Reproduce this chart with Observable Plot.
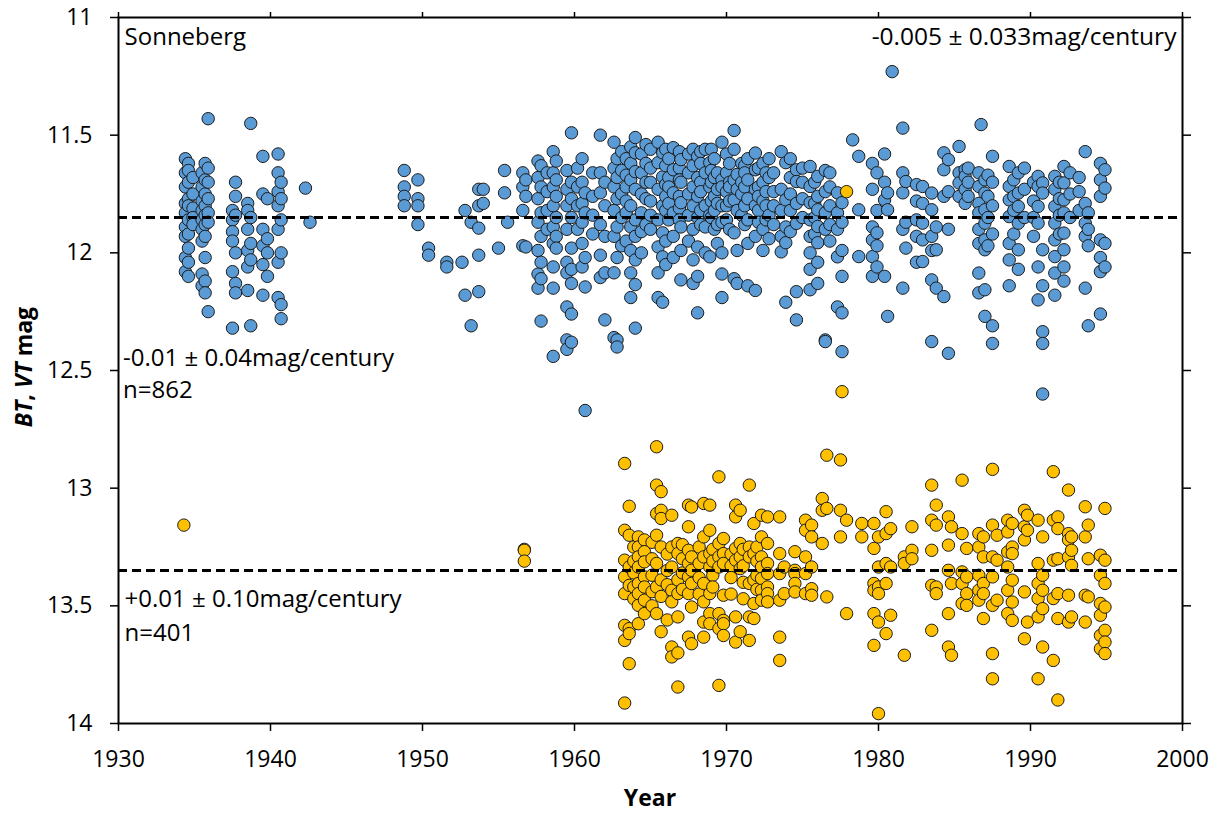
<!DOCTYPE html>
<html>
<head>
<meta charset="utf-8">
<script src="https://cdn.jsdelivr.net/npm/d3@7"></script>
<script src="https://cdn.jsdelivr.net/npm/@observablehq/plot@0.6"></script>
<style>
  html, body { margin: 0; padding: 0; background: #fff; }
  #chart svg { display: block; }
</style>
</head>
<body>
<div id="chart"></div>
<script>
// ---- Data ----
const xTicks = [1930, 1940, 1950, 1960, 1970, 1980, 1990, 2000];
const yTicks = [11, 11.5, 12, 12.5, 13, 13.5, 14];
const blueMean = 11.85;
const orangeMean = 13.35;

// BT magnitudes, grouped per observing epoch: [year, [mags...]]
const blue1930s = [
  [1934.4, [11.60, 11.66, 11.72, 11.79, 11.83, 11.89, 11.93, 12.02, 12.08]],
  [1934.6, [11.62, 11.65, 11.70, 11.77, 11.80, 11.86, 11.92, 11.98, 12.04, 12.10]],
  [1934.9, [11.68, 11.75, 11.81, 11.85, 11.88]],
  [1935.5, [11.66, 11.72, 11.78, 11.82, 11.86, 11.90, 11.95, 12.09, 12.14]],
  [1935.7, [11.62, 11.69, 11.75, 11.80, 11.84, 11.88, 11.93, 12.02, 12.12, 12.17]],
  [1935.9, [11.43, 11.64, 11.70, 11.77, 11.83, 11.87, 12.25]],
  [1937.5, [11.82, 11.86, 11.91, 11.95, 12.08, 12.32]],
  [1937.7, [11.70, 11.76, 11.84, 12.00, 12.13, 12.17]],
  [1938.5, [11.79, 11.82, 11.90, 11.99, 12.06, 12.16]],
  [1938.7, [11.45, 11.85, 11.96, 12.03, 12.31]],
  [1939.5, [11.59, 11.75, 11.90, 11.97, 12.05, 12.18]],
  [1939.8, [11.77, 11.94, 12.00, 12.10]]
];
const blue1940s = [
  [1940.5, [11.58, 11.66, 11.74, 11.80, 11.90, 12.04, 12.19]],
  [1940.7, [11.70, 11.77, 11.86, 12.00, 12.22, 12.28]],
  [1942.3, [11.725]],
  [1942.6, [11.87]],
  [1948.8, [11.65, 11.72, 11.76, 11.80]],
  [1949.7, [11.69, 11.77, 11.80, 11.88]]
];
const blue1950s = [
  [1950.4, [11.98, 12.01]],
  [1951.6, [12.04, 12.06]],
  [1952.6, [12.04]],
  [1952.8, [11.82, 12.18]],
  [1953.2, [11.87, 12.31]],
  [1953.7, [11.73, 11.80, 11.895, 12.01, 12.165]],
  [1954.0, [11.73, 11.79]],
  [1955.0, [11.98]],
  [1955.4, [11.65, 11.745]],
  [1955.6, [11.87]],
  [1956.6, [11.66, 11.72, 11.82, 11.97]],
  [1956.8, [11.69, 11.76, 11.975]],
  [1957.6, [11.61, 11.68, 11.77, 11.87, 11.99, 12.09, 12.15]],
  [1957.8, [11.63, 11.72, 11.83, 11.93, 12.04, 12.11, 12.29]],
  [1958.2, [11.66, 11.74, 11.82, 11.90]],
  [1958.6, [11.57, 11.66, 11.72, 11.80, 11.89, 11.96, 12.06, 12.15, 12.44]],
  [1958.8, [11.61, 11.69, 11.76, 11.85, 11.93, 11.98]],
  [1959.5, [11.65, 11.73, 11.80, 11.90, 12.04, 12.085, 12.23, 12.37, 12.41]],
  [1959.8, [11.49, 11.70, 11.77, 11.85, 11.98, 12.07, 12.13, 12.26, 12.38]]
];
const blue1960s = [
  [1960.2, [11.64, 11.72, 11.80, 11.90]],
  [1960.5, [11.60, 11.70, 11.79, 11.87, 11.96, 12.06]],
  [1960.7, [11.745, 11.83, 12.02, 12.145, 12.67]],
  [1961.2, [11.66, 11.76, 11.84, 11.92]],
  [1961.7, [11.50, 11.66, 11.745, 11.88, 12.01, 12.105]],
  [1962.0, [11.70, 11.80, 11.93, 12.085, 12.285]],
  [1962.6, [11.53, 11.64, 11.72, 11.82, 11.93, 12.085, 12.36]],
  [1962.8, [11.60, 11.68, 11.77, 11.89, 12.02, 12.37, 12.40]],
  [1963.1, [11.57, 11.65, 11.75, 11.85, 11.97]],
  [1963.4, [11.60, 11.67, 11.72, 11.78, 11.83, 11.95]],
  [1963.7, [11.55, 11.62, 11.69, 11.80, 11.89, 11.99, 12.085, 12.19]],
  [1964.0, [11.51, 11.575, 11.655, 11.73, 11.86, 11.93, 12.03, 12.135, 12.32]],
  [1964.4, [11.58, 11.66, 11.75, 11.83, 11.91, 12.00]],
  [1964.7, [11.54, 11.62, 11.70, 11.77, 11.88]],
  [1965.0, [11.56, 11.64, 11.70, 11.78, 11.84, 11.90]],
  [1965.5, [11.53, 11.617, 11.73, 11.86, 11.975, 12.085, 12.19]],
  [1965.8, [11.575, 11.677, 11.80, 11.915, 12.017, 12.21]],
  [1966.0, [11.56, 11.63, 11.71, 11.76, 11.82, 11.95, 12.05]],
  [1966.2, [11.60, 11.68, 11.72, 11.79, 11.86]],
  [1966.5, [11.553, 11.647, 11.745, 11.83, 11.93, 12.02]],
  [1966.9, [11.57, 11.64, 11.69, 11.76, 11.81, 11.86]],
  [1967.0, [11.604, 11.70, 11.787, 11.89, 11.99, 12.115]],
  [1967.5, [11.58, 11.66, 11.75, 11.84, 11.95]],
  [1967.8, [11.56, 11.63, 11.72, 11.80, 11.90, 12.03, 12.13]],
  [1968.1, [11.59, 11.68, 11.76, 11.85, 11.975, 12.10, 12.255]],
  [1968.3, [11.57, 11.62, 11.70, 11.74, 11.82, 11.88]],
  [1968.6, [11.56, 11.66, 11.80, 11.89, 12.0]],
  [1968.9, [11.617, 11.72, 11.84, 12.017]],
  [1969.0, [11.56, 11.65, 11.70, 11.78, 11.85]],
  [1969.2, [11.60, 11.68, 11.76, 11.82, 11.90]],
  [1969.4, [11.66, 11.73, 11.79, 11.88, 11.96]],
  [1969.7, [11.53, 11.69, 11.72, 11.80, 11.87, 12.0, 12.09, 12.19]]
];
const blue1970s = [
  [1970.0, [11.58, 11.66, 11.74, 11.80, 11.86]],
  [1970.2, [11.62, 11.70, 11.72, 11.78, 11.90]],
  [1970.5, [11.48, 11.56, 11.69, 11.775, 11.915, 12.11]],
  [1970.7, [11.667, 11.73, 11.82, 11.99, 12.13]],
  [1971.0, [11.62, 11.70, 11.75, 11.84]],
  [1971.2, [11.63, 11.66, 11.72, 11.80, 11.88]],
  [1971.4, [11.60, 11.69, 11.77, 11.86, 11.96, 12.14]],
  [1971.9, [11.576, 11.647, 11.73, 11.80, 11.93, 12.16]],
  [1972.1, [11.64, 11.72, 11.76, 11.82, 11.87]],
  [1972.4, [11.62, 11.70, 11.78, 11.90, 11.99]],
  [1972.6, [11.66, 11.74, 11.80, 11.86]],
  [1972.8, [11.60, 11.68, 11.84, 11.94]],
  [1973.1, [11.66, 11.74, 11.80, 11.88]],
  [1973.6, [11.57, 11.73, 11.82, 11.93, 11.996]],
  [1973.9, [11.617, 11.775, 11.89, 11.957, 12.21]],
  [1974.2, [11.60, 11.68, 11.75, 11.82, 11.91]],
  [1974.6, [11.647, 11.697, 11.79, 11.875, 12.165, 12.285]],
  [1975.0, [11.64, 11.70, 11.77, 11.85]],
  [1975.5, [11.633, 11.718, 11.787, 11.86, 11.93, 12.0, 12.07, 12.157]],
  [1975.8, [11.70, 11.79, 11.85, 11.92]],
  [1976.0, [11.675, 11.76, 11.817, 11.888, 11.957, 12.04, 12.13]],
  [1976.5, [11.65, 11.74, 11.83, 11.90, 12.37, 12.377]],
  [1976.8, [11.66, 11.72, 11.80, 11.88, 11.95]],
  [1977.3, [11.745, 11.83, 11.90, 12.017, 12.23]],
  [1977.6, [11.787, 11.87, 11.99, 12.10, 12.255, 12.42]],
  [1978.3, [11.52]],
  [1978.7, [11.59, 11.817, 12.016]],
  [1979.6, [11.62, 11.73, 11.89, 11.945, 12.016, 12.10]],
  [1979.9, [11.66, 11.82, 11.915, 11.97, 12.06]]
];
const blue1980s = [
  [1980.4, [11.58, 11.70, 11.775, 12.10]],
  [1980.6, [11.745, 11.817, 12.27]],
  [1980.9, [11.23]],
  [1981.6, [11.47, 11.66, 11.745, 11.90, 12.15]],
  [1981.8, [11.697, 11.87, 11.98]],
  [1982.5, [11.71, 11.78, 11.86, 11.93, 12.04]],
  [1982.9, [11.718, 11.79, 11.874, 11.945, 12.037]],
  [1983.5, [11.746, 11.817, 11.93, 11.99, 12.115, 12.377]],
  [1983.8, [11.89, 11.987, 12.15]],
  [1984.3, [11.575, 11.647, 11.76, 12.186]],
  [1984.6, [11.604, 11.74, 11.90, 12.427]],
  [1985.3, [11.548, 11.66, 11.703, 11.76]],
  [1985.7, [11.647, 11.675, 11.73, 11.79]],
  [1985.9, [11.64, 11.70, 11.76]],
  [1986.6, [11.66, 11.718, 11.79, 11.83, 11.90, 11.96, 12.086, 12.17]],
  [1986.75, [11.455]],
  [1987.0, [11.69, 11.746, 11.817, 11.874, 11.945, 11.987, 12.157, 12.27]],
  [1987.2, [11.67, 11.76, 11.85, 11.97]],
  [1987.5, [11.59, 11.70, 11.80, 11.92, 12.31, 12.385]],
  [1988.6, [11.633, 11.718, 11.775, 11.846, 11.96, 12.03, 12.14]],
  [1988.9, [11.69, 11.76, 11.82, 11.92]],
  [1989.2, [11.66, 11.746, 11.803, 11.874, 11.987, 12.07]],
  [1989.6, [11.64, 11.73, 11.85]]
];
const blue1990s = [
  [1990.2, [11.70, 11.78, 11.85, 11.93]],
  [1990.5, [11.675, 11.718, 11.803, 11.874, 12.06, 12.20]],
  [1990.8, [11.703, 11.746, 11.987, 12.14, 12.335, 12.385, 12.60]],
  [1991.6, [11.675, 11.73, 11.803, 11.874, 11.945, 12.016, 12.086, 12.18]],
  [1991.9, [11.70, 11.77, 11.84, 11.92]],
  [1992.2, [11.633, 11.703, 11.775, 11.83, 11.916, 11.987, 12.06, 12.12]],
  [1992.6, [11.66, 11.75, 11.85]],
  [1993.2, [11.68, 11.74, 11.82]],
  [1993.6, [11.57, 11.79, 11.874, 11.93, 12.15]],
  [1993.8, [11.83, 11.90, 11.97, 12.31]],
  [1994.6, [11.62, 11.69, 11.76, 11.945, 12.02, 12.08, 12.26]],
  [1994.9, [11.647, 11.725, 11.96, 12.06]]
];

// VT magnitudes
const orangeEarly = [
  [1934.3, [13.157]],
  [1956.7, [13.26, 13.264, 13.31]]
];
const orange1960s = [
  [1963.3, [12.895, 13.179, 13.306, 13.377, 13.448, 13.583, 13.647, 13.913]],
  [1963.6, [13.077, 13.20, 13.335, 13.413, 13.597, 13.618, 13.746]],
  [1963.9, [13.25, 13.31, 13.36, 13.42, 13.47]],
  [1964.2, [13.207, 13.25, 13.292, 13.335, 13.405, 13.448, 13.498, 13.576]],
  [1964.6, [13.22, 13.27, 13.313, 13.377, 13.42, 13.476, 13.533]],
  [1965.1, [13.23, 13.30, 13.37, 13.44, 13.50]],
  [1965.4, [12.824, 12.987, 13.108, 13.20, 13.32, 13.42, 13.533]],
  [1965.7, [13.015, 13.094, 13.129, 13.25, 13.39, 13.46, 13.61]],
  [1966.1, [13.28, 13.35, 13.41, 13.56]],
  [1966.4, [13.115, 13.25, 13.335, 13.434, 13.483, 13.675, 13.717]],
  [1966.8, [13.235, 13.278, 13.39, 13.448, 13.547, 13.70, 13.845]],
  [1967.1, [13.24, 13.30, 13.36, 13.43]],
  [1967.5, [13.072, 13.164, 13.264, 13.32, 13.377, 13.448, 13.633]],
  [1967.7, [13.08, 13.292, 13.349, 13.405, 13.505, 13.661]],
  [1968.2, [13.25, 13.32, 13.38, 13.45]],
  [1968.5, [13.065, 13.207, 13.292, 13.405, 13.483, 13.569, 13.633]],
  [1968.9, [13.072, 13.179, 13.278, 13.335, 13.448, 13.533, 13.576]],
  [1969.1, [13.26, 13.31, 13.37, 13.42]],
  [1969.5, [12.952, 13.235, 13.292, 13.335, 13.533, 13.597, 13.838]],
  [1969.8, [13.214, 13.278, 13.32, 13.455, 13.562, 13.576, 13.626]]
];
const orange1970s = [
  [1970.3, [13.28, 13.33, 13.38, 13.45]],
  [1970.6, [13.072, 13.122, 13.256, 13.306, 13.547, 13.654]],
  [1970.9, [13.094, 13.235, 13.292, 13.342, 13.61]],
  [1971.1, [13.26, 13.33, 13.40, 13.47]],
  [1971.5, [12.987, 13.25, 13.292, 13.405, 13.547, 13.647]],
  [1971.8, [13.15, 13.278, 13.39, 13.49, 13.554]],
  [1972.0, [13.25, 13.31, 13.37, 13.43]],
  [1972.3, [13.115, 13.207, 13.292, 13.335, 13.384, 13.434, 13.476]],
  [1972.7, [13.122, 13.235, 13.32, 13.363, 13.42, 13.448, 13.483]],
  [1973.5, [13.122, 13.278, 13.363, 13.476, 13.633, 13.732]],
  [1973.8, [13.335, 13.448]],
  [1974.5, [13.27, 13.349, 13.363, 13.405, 13.441]],
  [1975.2, [13.136, 13.179, 13.292, 13.363, 13.448]],
  [1975.6, [13.157, 13.207, 13.335, 13.427, 13.455]],
  [1976.3, [13.044, 13.094, 13.235]],
  [1976.6, [12.86, 13.086, 13.462]],
  [1977.5, [12.88, 13.094, 13.207]],
  [1977.6, [12.59]],
  [1977.9, [11.74, 13.136, 13.533]],
  [1978.9, [13.15, 13.207]],
  [1979.7, [13.15, 13.256, 13.405, 13.434, 13.533, 13.668]]
];
const orange1980s = [
  [1980.0, [13.207, 13.335, 13.42, 13.448, 13.569, 13.958]],
  [1980.5, [13.10, 13.193, 13.32, 13.405, 13.618]],
  [1980.8, [13.172, 13.335, 13.54]],
  [1981.7, [13.292, 13.32, 13.71]],
  [1982.2, [13.164, 13.264, 13.30]],
  [1983.5, [12.987, 13.136, 13.264, 13.413, 13.604]],
  [1983.8, [13.072, 13.157, 13.42, 13.448]],
  [1984.6, [13.122, 13.242, 13.349, 13.533, 13.675]],
  [1984.8, [13.164, 13.405, 13.71]],
  [1985.5, [12.966, 13.193, 13.356, 13.405, 13.49]],
  [1985.8, [13.256, 13.377, 13.448, 13.498]],
  [1986.6, [13.193, 13.25, 13.37, 13.434, 13.476]],
  [1986.9, [13.207, 13.292, 13.405, 13.448, 13.554]],
  [1987.5, [12.92, 13.157, 13.292, 13.377, 13.498, 13.703, 13.81]],
  [1987.8, [13.20, 13.306, 13.476]],
  [1988.5, [13.136, 13.186, 13.271, 13.335, 13.434, 13.533]],
  [1988.8, [13.15, 13.25, 13.278, 13.391, 13.484, 13.562]],
  [1989.6, [13.094, 13.164, 13.22, 13.441, 13.64]],
  [1989.8, [13.115, 13.179, 13.569]]
];
const orange1990s = [
  [1990.5, [13.136, 13.32, 13.405, 13.469, 13.547, 13.81]],
  [1990.8, [13.207, 13.37, 13.434, 13.512, 13.675]],
  [1991.5, [12.93, 13.136, 13.306, 13.469, 13.732]],
  [1991.8, [13.122, 13.172, 13.30, 13.448, 13.554, 13.90]],
  [1992.5, [13.008, 13.193, 13.22, 13.292, 13.455, 13.569]],
  [1992.7, [13.207, 13.264, 13.328, 13.547]],
  [1993.6, [13.079, 13.207, 13.455, 13.569]],
  [1993.8, [13.157, 13.30, 13.462]],
  [1994.6, [13.285, 13.37, 13.49, 13.54, 13.626, 13.682]],
  [1994.9, [13.086, 13.306, 13.405, 13.505, 13.604, 13.654, 13.703]]
];

// Annotation texts (positions in data units)
const notesLeft = [
  {x: 1930.4, y: 11.043, text: "Sonneberg"},
  {x: 1930.3, y: 12.410, text: "-0.01 ± 0.04mag/century"},
  {x: 1930.3, y: 12.545, text: "n=862"},
  {x: 1930.4, y: 13.434, text: "+0.01 ± 0.10mag/century"},
  {x: 1930.4, y: 13.575, text: "n=401"}
];
const notesRight = [
  {x: 1999.6, y: 11.043, text: "-0.005 ± 0.033mag/century"}
];

// ---- Build tables ----
const flatten = groups => groups.flatMap(([year, mags]) => mags.map(mag => ({year, mag})));
const blue = flatten([...blue1930s, ...blue1940s, ...blue1950s, ...blue1960s, ...blue1970s, ...blue1980s, ...blue1990s]);
const orange = flatten([...orangeEarly, ...orange1960s, ...orange1970s, ...orange1980s, ...orange1990s]);

const FONT = "'Open Sans', 'Liberation Sans', sans-serif";

const chart = Plot.plot({
  width: 1217,
  height: 813,
  marginLeft: 118,
  marginRight: 35,
  marginTop: 17,
  marginBottom: 90,
  style: {fontFamily: FONT, fontSize: "23px", color: "black", background: "white"},
  x: {domain: [1930, 2000]},
  y: {domain: [11, 14], reverse: true},
  marks: [
    Plot.dot(blue, {x: "year", y: "mag", r: 6.2, fill: "#5B9BD5", stroke: "#1b1b1b", strokeWidth: 1}),
    Plot.dot(orange, {x: "year", y: "mag", r: 6.2, fill: "#FFC000", stroke: "#1b1b1b", strokeWidth: 1}),
    Plot.ruleY([blueMean, orangeMean], {stroke: "black", strokeWidth: 3, strokeDasharray: "9,5"}),
    Plot.frame({stroke: "black", strokeWidth: 2}),
    Plot.axisX({ticks: xTicks, tickSize: 8, tickPadding: 19, tickFormat: d => String(d), label: null, strokeWidth: 1.5}),
    Plot.axisX({anchor: "top", ticks: xTicks, tickSize: 6, tickFormat: () => "", label: null, strokeWidth: 1.5}),
    Plot.axisY({ticks: yTicks, tickSize: 8, tickPadding: 18, tickFormat: d => String(d), label: null, strokeWidth: 1.5}),
    Plot.axisY({anchor: "right", ticks: yTicks, tickSize: 8, tickFormat: () => "", label: null, strokeWidth: 1.5}),
    Plot.text(notesLeft, {x: "x", y: "y", text: "text", textAnchor: "start", lineAnchor: "top", fill: "black", fontSize: 24}),
    Plot.text(notesRight, {x: "x", y: "y", text: "text", textAnchor: "end", lineAnchor: "top", fill: "black", fontSize: 24.5})
  ]
});

const svg = d3.select(chart);
// Y axis title with italic BT, VT
const yt = svg.append("text")
  .attr("transform", "translate(32,367) rotate(-90)")
  .attr("text-anchor", "middle")
  .attr("font-family", FONT)
  .attr("font-size", 23)
  .attr("font-weight", "bold")
  .attr("fill", "black");
yt.append("tspan").attr("font-style", "italic").text("BT");
yt.append("tspan").text(", ");
yt.append("tspan").attr("font-style", "italic").text("VT");
yt.append("tspan").text(" mag");
// X axis title
svg.append("text")
  .attr("x", 650)
  .attr("y", 806)
  .attr("text-anchor", "middle")
  .attr("font-family", FONT)
  .attr("font-size", 23)
  .attr("font-weight", "bold")
  .attr("fill", "black")
  .text("Year");

document.getElementById("chart").appendChild(chart);
</script>
</body>
</html>
